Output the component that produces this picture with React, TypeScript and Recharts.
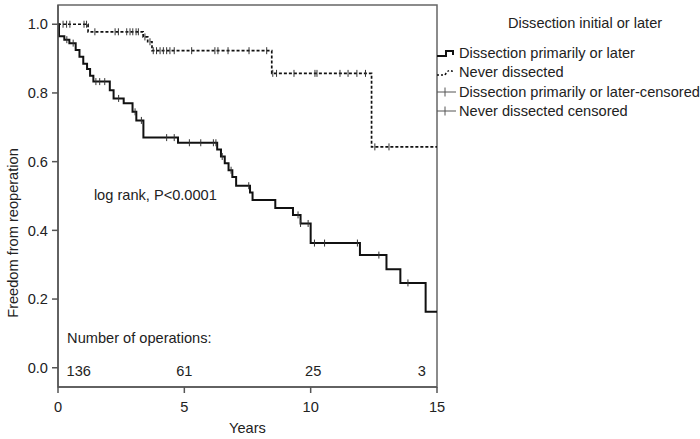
import React from "react";
import {
  ComposedChart,
  Line,
  Scatter,
  XAxis,
  YAxis,
  ReferenceArea,
} from "recharts";

// ─── Data ────────────────────────────────────────────────────────────────────

const solidTimes = [0, 0.04, 0.25, 0.45, 0.7, 0.85, 1.0, 1.15, 1.27, 1.4, 2.05, 2.2, 2.6, 2.95, 3.1, 3.38, 4.75, 6.3, 6.45, 6.6, 6.75, 6.9, 7.05, 7.6, 7.7, 8.6, 9.3, 9.6, 10.0, 11.95, 13.0, 13.55, 14.55, 15];
const solidSurv = [1.0, 0.965, 0.955, 0.945, 0.925, 0.905, 0.885, 0.87, 0.85, 0.833, 0.808, 0.784, 0.77, 0.745, 0.72, 0.67, 0.655, 0.635, 0.615, 0.595, 0.575, 0.555, 0.53, 0.51, 0.488, 0.465, 0.445, 0.42, 0.363, 0.328, 0.287, 0.247, 0.163, 0.163];
const solidCensored = [0.35, 0.6, 1.5, 1.65, 1.85, 2.4, 3.05, 3.3, 4.3, 4.6, 5.2, 5.65, 6.15, 6.25, 6.5, 6.85, 7.55, 9.5, 9.6, 9.9, 10.15, 10.55, 11.85, 12.7, 13.85];

const dashedTimes = [0, 1.19, 3.37, 3.55, 3.72, 8.46, 12.41, 15];
const dashedSurv = [1.0, 0.978, 0.963, 0.949, 0.923, 0.857, 0.643, 0.643];
const dashedCensored = [0.2, 0.34, 0.47, 1.03, 1.13, 1.46, 2.26, 2.39, 2.72, 2.85, 2.96, 3.09, 3.18, 3.44, 3.64, 3.77, 3.9, 4.04, 4.17, 4.3, 4.43, 4.6, 5.29, 6.21, 6.33, 6.73, 7.56, 8.26, 8.5, 8.65, 9.34, 10.17, 10.25, 11.16, 11.48, 11.83, 12.17, 12.54, 13.1];

const xTicks = [0, 5, 10, 15];
const yTicks = [0, 0.2, 0.4, 0.6, 0.8, 1.0];

const riskTimes = [0.82, 5, 10.1, 14.4];
const riskCounts = ["136", "61", "25", "3"];

const SERIES_NAMES = [
  "Dissection primarily or later",
  "Never dissected",
  "Dissection primarily or later-censored",
  "Never dissected censored",
];

// ─── Helpers ─────────────────────────────────────────────────────────────────

const FONT = '"Liberation Sans", Arial, Helvetica, sans-serif';
const FS = 14.6;
const INK = "#222";

const toRows = (t: number[], s: number[]) => t.map((v, i) => ({ t: v, s: s[i] }));

/** value of a step curve at time x */
function stepAt(t: number[], s: number[], x: number) {
  let v = s[0];
  for (let i = 0; i < t.length; i++) if (t[i] <= x) v = s[i];
  return v;
}

const solidRows = toRows(solidTimes, solidSurv);
const dashedRows = toRows(dashedTimes, dashedSurv);
const solidMarks = solidCensored.map((x) => ({ t: x, s: stepAt(solidTimes, solidSurv, x) }));
const dashedMarks = dashedCensored.map((x) => ({ t: x, s: stepAt(dashedTimes, dashedSurv, x) }));

const notes = [
  { t: 1.42, s: 0.503, label: "log rank, P<0.0001", anchor: "start" },
  { t: 0.36, s: 0.087, label: "Number of operations:", anchor: "start" },
  ...riskTimes.map((x, i) => ({ t: x, s: -0.01, label: riskCounts[i], anchor: "middle" })),
];

const CensorTick = (p: any) => (
  <line x1={p.cx} x2={p.cx} y1={p.cy - 3.5} y2={p.cy + 3.5} stroke="#333" strokeWidth={1} />
);

const NoteText = (p: any) => (
  <text
    x={p.cx}
    y={p.cy}
    textAnchor={p.payload.anchor}
    dominantBaseline="central"
    fontSize={FS}
    fontFamily={FONT}
    fill={INK}
  >
    {p.payload.label}
  </text>
);

function LegendIcon({ kind }: { kind: number }) {
  return (
    <svg width={21} height={14} style={{ display: "block", flex: "none" }}>
      {kind === 0 && <path d="M0 10 H9 V5 H16 V9" fill="none" stroke="#111" strokeWidth={2} />}
      {kind === 1 && (
        <path d="M0 10 H8 Q11 4 15 6 V9" fill="none" stroke="#111" strokeWidth={1.5} strokeDasharray="2 2" />
      )}
      {kind >= 2 && (
        <>
          <path d="M0 7 H19" stroke="#555" strokeWidth={1} />
          <path d="M8 2.5 V11.5" stroke="#555" strokeWidth={1} />
        </>
      )}
    </svg>
  );
}

// ─── Component ───────────────────────────────────────────────────────────────

export default function App() {
  return (
    <div style={{ position: "absolute", left: 0, top: 0, width: 700, height: 439, background: "#fff", fontFamily: FONT }}>
      <ComposedChart width={700} height={439} margin={{ top: 5, right: 263, bottom: 0, left: 0 }}>
        <ReferenceArea x1={0} x2={15} y1={-0.056} y2={1.056} fill="none" stroke="#666" strokeWidth={1.5} ifOverflow="visible" />
        <XAxis
          type="number"
          dataKey="t"
          domain={[0, 15]}
          ticks={xTicks}
          allowDataOverflow
          height={52}
          tickSize={6}
          tickMargin={9}
          stroke="#555"
          strokeWidth={1.5}
          tick={{ fill: INK, fontSize: FS, fontFamily: FONT }}
          label={{
            content: ({ viewBox }: any) => (
              <text
                x={viewBox.x + viewBox.width / 2}
                y={viewBox.y + 41}
                textAnchor="middle"
                dominantBaseline="central"
                fontSize={FS}
                fontFamily={FONT}
                fill={INK}
              >
                Years
              </text>
            ),
          }}
        />
        <YAxis
          type="number"
          dataKey="s"
          domain={[-0.056, 1.056]}
          ticks={yTicks}
          allowDataOverflow
          width={58}
          tickSize={6}
          tickMargin={4}
          stroke="#555"
          strokeWidth={1.5}
          tickFormatter={(v: number) => v.toFixed(1)}
          tick={{ fill: INK, fontSize: FS, fontFamily: FONT }}
          label={{
            content: ({ viewBox }: any) => {
              const cx = viewBox.x + 13;
              const cy = viewBox.y + viewBox.height / 2 + 37;
              return (
                <text
                  x={cx}
                  y={cy}
                  transform={`rotate(-90, ${cx}, ${cy})`}
                  textAnchor="middle"
                  dominantBaseline="central"
                  fontSize={FS}
                  fontFamily={FONT}
                  fill={INK}
                >
                  Freedom from reoperation
                </text>
              );
            },
          }}
        />
        <Line
          data={dashedRows}
          dataKey="s"
          type="stepAfter"
          stroke="#111"
          strokeWidth={1.7}
          strokeDasharray="3 2"
          dot={false}
          activeDot={false}
          isAnimationActive={false}
        />
        <Line
          data={solidRows}
          dataKey="s"
          type="stepAfter"
          stroke="#111"
          strokeWidth={2}
          dot={false}
          activeDot={false}
          isAnimationActive={false}
        />
        <Scatter data={solidMarks} dataKey="s" shape={CensorTick} isAnimationActive={false} />
        <Scatter data={dashedMarks} dataKey="s" shape={CensorTick} isAnimationActive={false} />
        <Scatter data={notes} dataKey="s" shape={NoteText} isAnimationActive={false} />
      </ComposedChart>

      {/* Legend */}
      <div style={{ position: "absolute", left: 437, top: 13, width: 263, fontSize: FS, color: INK }}>
        <div style={{ marginLeft: 71, lineHeight: "20px", whiteSpace: "nowrap" }}>Dissection initial or later</div>
        <div style={{ marginTop: 10 }}>
          {SERIES_NAMES.map((name, i) => (
            <div key={name} style={{ display: "flex", alignItems: "center", height: 19.5, whiteSpace: "nowrap" }}>
              <LegendIcon kind={i} />
              <span style={{ marginLeft: 1 }}>{name}</span>
            </div>
          ))}
        </div>
      </div>
    </div>
  );
}
